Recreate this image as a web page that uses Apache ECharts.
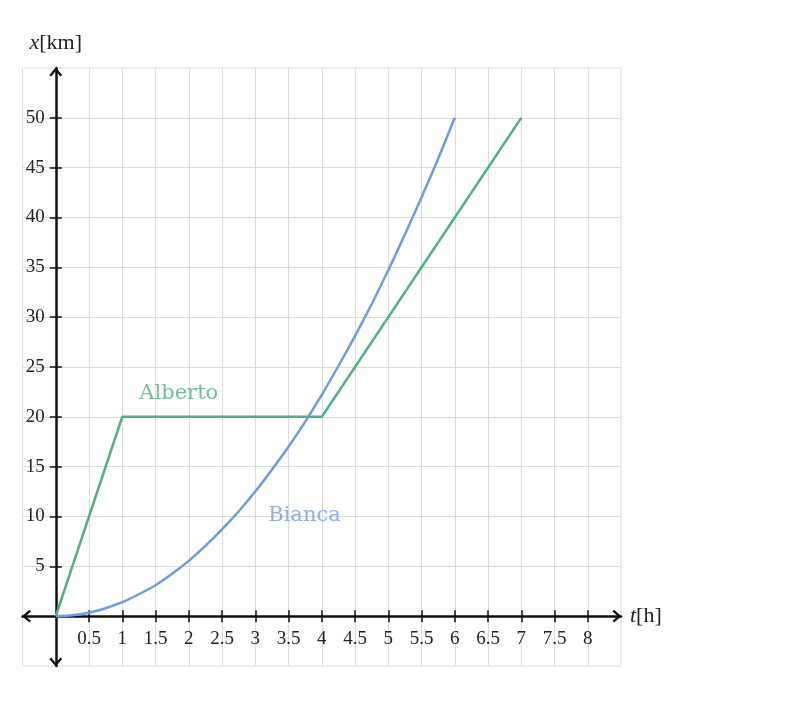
<!DOCTYPE html>
<html>
<head>
<meta charset="utf-8">
<script src="https://cdn.jsdelivr.net/npm/echarts@6/dist/echarts.min.js"></script>
<style>html,body{margin:0;padding:0;background:#fff;}#c{width:800px;height:707px;}</style>
</head>
<body>
<div id="c"></div>
<script>
// ---- data ----
const albertoT = [0, 1, 4, 7];
const albertoX = [0, 20, 20, 50];
const biancaT = [0, 0.25, 0.5, 0.75, 1, 1.25, 1.5, 1.75, 2, 2.25, 2.5, 2.75, 3, 3.25, 3.5, 3.75, 4, 4.25, 4.5, 4.75, 5, 5.25, 5.5, 5.75, 6];
const biancaX = [0, 0.1, 0.35, 0.8, 1.4, 2.2, 3.1, 4.25, 5.55, 7.05, 8.7, 10.5, 12.5, 14.7, 17.0, 19.5, 22.2, 25.1, 28.1, 31.3, 34.7, 38.3, 42.0, 45.9, 50];
const xTickValues = [0.5, 1, 1.5, 2, 2.5, 3, 3.5, 4, 4.5, 5, 5.5, 6, 6.5, 7, 7.5, 8];
const yTickValues = [5, 10, 15, 20, 25, 30, 35, 40, 45, 50];
const seriesNames = ['Alberto', 'Bianca'];
const labelAnchors = [[1.85, 22.3], [3.74, 10.1]];

const X_MIN = -0.5, X_MAX = 8.5, Y_MIN = -5, Y_MAX = 55;
const GRID = {left: 22.5, right: 179, top: 68, bottom: 41};
const W = 800, H = 707;
const plotW = W - GRID.left - GRID.right, plotH = H - GRID.top - GRID.bottom;
// distance from grid edge to the zero line (layout of the axes through the origin)
const yZeroFromBottom = plotH * (0 - Y_MIN) / (Y_MAX - Y_MIN);
const xZeroFromLeft = plotW * (0 - X_MIN) / (X_MAX - X_MIN);

const GREEN = '#4fae7e';
const BLUE = '#6e9be6';
const chevron = 'path://M0,58 L50,0 L100,58 L86,70 L50,28 L14,70 Z';

const chart = echarts.init(document.getElementById('c'), null, {renderer: 'canvas'});
const tickFont = {fontFamily: 'Liberation Serif', fontSize: 19, color: '#222'};
const nameStyle = {fontFamily: 'Liberation Serif', fontSize: 22, color: '#222',
  rich: {i: {fontStyle: 'italic', fontFamily: 'Liberation Serif', fontSize: 22, color: '#222'}}};

const xa = [
  {type: 'value', position: 'bottom', offset: -yZeroFromBottom, min: X_MIN, max: X_MAX, interval: 0.5,
    axisLine: {show: true, onZero: false, symbol: [chevron, chevron], symbolSize: [16, 9], symbolOffset: [4, -4], lineStyle: {color: '#111', width: 2.5}},
    axisTick: {show: true, customValues: xTickValues, length: 6, lineStyle: {color: '#111', width: 1.5}},
    axisLabel: Object.assign({show: true, customValues: xTickValues, margin: 13}, tickFont),
    splitLine: {show: true, lineStyle: {color: '#dcdcdc', width: 1}},
    name: '{i|t}[h]', nameLocation: 'end', nameGap: 9, nameTextStyle: nameStyle},
  {type: 'value', position: 'top', offset: -(plotH - yZeroFromBottom), min: X_MIN, max: X_MAX, interval: 0.5,
    axisLine: {show: false, onZero: false},
    axisTick: {show: true, customValues: xTickValues, length: 6, lineStyle: {color: '#111', width: 1.5}},
    axisLabel: {show: false}, splitLine: {show: false}}
];
const ya = [
  {type: 'value', position: 'left', offset: -xZeroFromLeft, min: Y_MIN, max: Y_MAX, interval: 5,
    axisLine: {show: true, onZero: false, symbol: [chevron, chevron], symbolSize: [16, 9], symbolOffset: [4, -4], lineStyle: {color: '#111', width: 2.5}},
    axisTick: {show: true, customValues: yTickValues, length: 6, lineStyle: {color: '#111', width: 1.5}},
    axisLabel: Object.assign({show: true, customValues: yTickValues, margin: 11}, tickFont),
    splitLine: {show: true, lineStyle: {color: '#dcdcdc', width: 1}},
    name: '{i|x}[km]', nameLocation: 'end', nameGap: 14, nameTextStyle: nameStyle},
  {type: 'value', position: 'right', offset: -(plotW - xZeroFromLeft), min: Y_MIN, max: Y_MAX, interval: 5,
    axisLine: {show: false, onZero: false},
    axisTick: {show: true, customValues: yTickValues, length: 6, lineStyle: {color: '#111', width: 1.5}},
    axisLabel: {show: false}, splitLine: {show: false}}
];

const option = {
  animation: false,
  backgroundColor: '#fff',
  grid: Object.assign({show: true, borderColor: '#dcdcdc', borderWidth: 1, outerBoundsMode: 'none', containLabel: false}, GRID),
  xAxis: xa,
  yAxis: ya,
  series: [
    {name: seriesNames[0], type: 'line', data: albertoT.map((t, i) => [t, albertoX[i]]), showSymbol: false, symbol: 'none',
      lineStyle: {color: GREEN, width: 2.5}, itemStyle: {color: GREEN}, z: 3},
    {name: seriesNames[1], type: 'line', data: biancaT.map((t, i) => [t, biancaX[i]]), showSymbol: false, symbol: 'none',
      smooth: 0.2,
      lineStyle: {color: BLUE, width: 2.5}, itemStyle: {color: BLUE}, z: 3},
    {type: 'scatter', symbolSize: 0, silent: true, z: 4,
      data: labelAnchors.map((p, i) => ({value: p, name: seriesNames[i],
        label: {show: true, position: 'inside', formatter: '{b}', fontFamily: 'DejaVu Serif', fontSize: 21, color: i === 0 ? GREEN : BLUE}}))}
  ]
};
chart.setOption(option);
</script>
</body>
</html>
